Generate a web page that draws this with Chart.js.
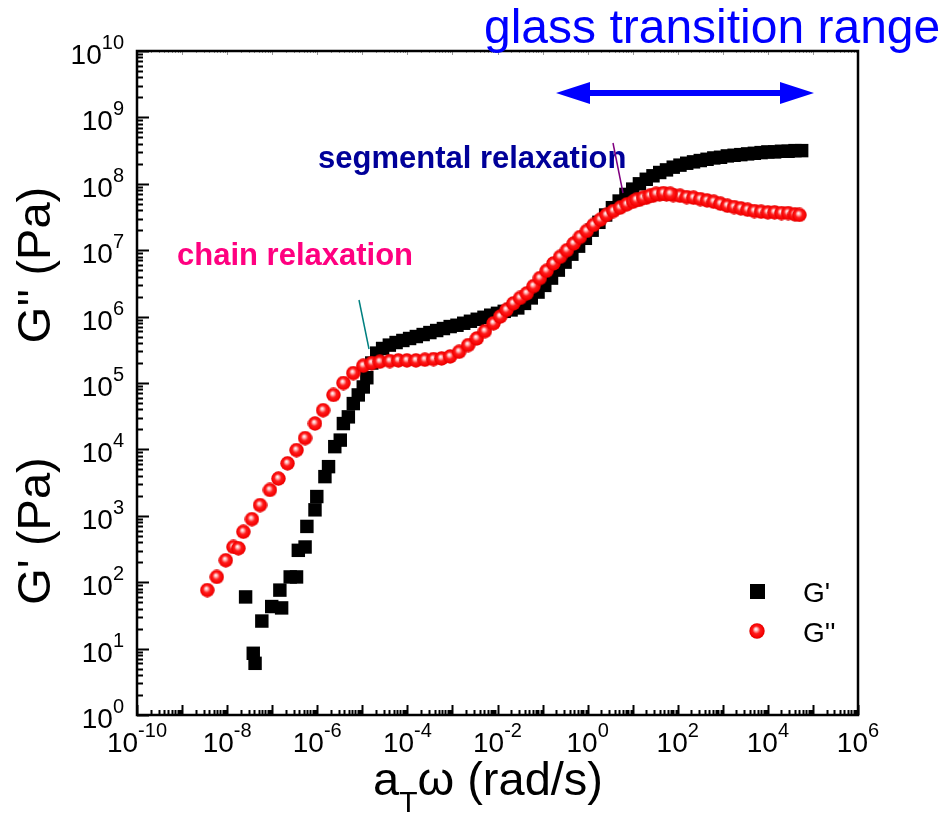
<!DOCTYPE html>
<html>
<head>
<meta charset="utf-8">
<script src="https://cdn.jsdelivr.net/npm/chart.js@4.4.1/dist/chart.umd.min.js"></script>
<style>
  html, body { margin: 0; padding: 0; background: #fff; }
  canvas { display: block; }
</style>
</head>
<body>
<canvas id="modulusChart" width="950" height="815"></canvas>
<script>
// G' (storage modulus) - black squares
const gPrimeFreq = [
  2.57e-8, 3.80e-8, 4.17e-8, 5.89e-8, 9.77e-8, 1.48e-7, 1.62e-7, 2.51e-7, 3.47e-7, 3.80e-7,
  5.37e-7, 5.89e-7, 8.91e-7, 9.77e-7, 1.48e-6, 1.78e-6, 2.45e-6, 3.24e-6, 3.80e-6, 4.90e-6,
  6.31e-6, 8.13e-6, 1.05e-5, 1.26e-5, 1.62e-5, 2.09e-5, 2.82e-5, 3.98e-5, 5.62e-5, 7.94e-5,
  1.12e-4, 1.58e-4, 2.24e-4, 3.16e-4, 4.47e-4, 6.31e-4, 8.91e-4, 1.26e-3, 1.78e-3, 2.51e-3,
  3.55e-3, 5.01e-3, 7.08e-3, 1.00e-2, 1.41e-2, 2.00e-2, 2.82e-2, 3.98e-2, 5.62e-2, 7.94e-2,
  0.112, 0.158, 0.224, 0.316, 0.447, 0.631, 0.891, 1.26, 1.78, 2.51,
  3.55, 5.01, 7.08, 10.0, 14.1, 20.0, 28.2, 39.8, 56.2, 79.4,
  112, 158, 224, 316, 447, 631, 891, 1260, 1780, 2510,
  3550, 5010, 7080, 10000, 14100, 20000, 28200, 39800, 56200
];
const gPrimeVal = [
  60, 8.5, 6.0, 26, 43, 76, 41, 120, 120, 302,
  339, 692, 1230, 1950, 3890, 5500, 11000, 13800, 24500, 30900,
  49000, 66100, 87100, 1.20e5, 2.00e5, 2.82e5, 3.31e5, 3.72e5, 4.07e5, 4.37e5,
  4.68e5, 5.01e5, 5.37e5, 5.75e5, 6.17e5, 6.61e5, 7.08e5, 7.41e5, 7.94e5, 8.51e5,
  9.12e5, 9.77e5, 1.05e6, 1.12e6, 1.20e6, 1.26e6, 1.35e6, 1.58e6, 1.91e6, 2.34e6,
  2.95e6, 3.80e6, 5.01e6, 6.61e6, 8.71e6, 1.15e7, 1.51e7, 2.00e7, 2.63e7, 3.39e7,
  4.37e7, 5.50e7, 6.92e7, 8.32e7, 1.00e8, 1.17e8, 1.32e8, 1.48e8, 1.62e8, 1.78e8,
  1.91e8, 2.04e8, 2.14e8, 2.24e8, 2.34e8, 2.45e8, 2.51e8, 2.63e8, 2.69e8, 2.75e8,
  2.82e8, 2.88e8, 2.95e8, 3.02e8, 3.02e8, 3.09e8, 3.09e8, 3.16e8, 3.16e8
];

// G'' (loss modulus) - red balls
const gDoublePrimeFreq = [
  3.63e-9, 5.89e-9, 9.33e-9, 1.38e-8, 1.78e-8, 2.29e-8, 3.55e-8, 5.37e-8, 8.91e-8, 1.38e-7,
  2.19e-7, 3.47e-7, 5.37e-7, 8.91e-7, 1.35e-6, 2.29e-6, 3.80e-6, 6.31e-6, 1.05e-5, 1.62e-5,
  2.45e-5, 4.07e-5, 6.31e-5, 9.77e-5, 1.55e-4, 2.45e-4, 3.80e-4, 5.75e-4, 8.91e-4, 1.41e-3,
  2.24e-3, 3.47e-3, 5.25e-3, 8.13e-3, 1.15e-2, 1.58e-2, 2.24e-2, 3.16e-2, 4.47e-2, 6.31e-2,
  8.71e-2, 0.123, 0.174, 0.245, 0.347, 0.490, 0.676, 0.955, 1.35, 1.91,
  2.63, 3.72, 5.25, 7.41, 10.2, 14.1, 20.0, 28.2, 39.8, 56.2,
  79.4, 112, 158, 224, 316, 447, 631, 891, 1260, 1780,
  2510, 3550, 5010, 7080, 10000, 14100, 20000, 28200, 39800, 50100,
  12.0, 17.0, 24.0, 33.0, 48.0, 68.0
];
const gDoublePrimeVal = [
  76, 120, 214, 339, 324, 575, 891, 1450, 2450, 3630,
  6170, 9770, 14800, 24500, 38900, 66100, 1.00e5, 1.41e5, 1.82e5, 2.00e5,
  2.09e5, 2.14e5, 2.19e5, 2.19e5, 2.19e5, 2.24e5, 2.29e5, 2.34e5, 2.51e5, 2.95e5,
  3.72e5, 4.68e5, 6.03e5, 7.94e5, 1.00e6, 1.26e6, 1.58e6, 1.91e6, 2.24e6, 2.88e6,
  3.80e6, 4.90e6, 6.31e6, 7.94e6, 1.00e7, 1.26e7, 1.58e7, 1.95e7, 2.40e7, 2.88e7,
  3.39e7, 3.89e7, 4.37e7, 4.90e7, 5.37e7, 5.75e7, 6.17e7, 6.61e7, 6.92e7, 6.92e7,
  6.76e7, 6.61e7, 6.31e7, 6.17e7, 5.89e7, 5.62e7, 5.37e7, 5.01e7, 4.68e7, 4.47e7,
  4.27e7, 4.07e7, 3.89e7, 3.80e7, 3.72e7, 3.72e7, 3.63e7, 3.63e7, 3.47e7, 3.39e7,
  5.75e7, 6.17e7, 6.61e7, 7.08e7, 7.24e7, 7.08e7
];

const seriesNames = ["G'", "G''"];
const xLabelExps = [-10, -8, -6, -4, -2, 0, 2, 4, 6];
const yLabelExps = [0, 1, 2, 3, 4, 5, 6, 7, 8, 9, 10];

const FONT = '"Liberation Sans", Arial, Helvetica, sans-serif';

function toPoints(xs, ys) {
  return xs.map((v, i) => ({ x: v, y: ys[i] }));
}

// shaded red ball like the Origin "sphere" symbol
function makeBall(size) {
  const c = document.createElement('canvas');
  c.width = size; c.height = size;
  const g = c.getContext('2d');
  const r = size / 2;
  const grad = g.createRadialGradient(r * 0.85, r * 0.75, 0, r, r, r);
  grad.addColorStop(0, '#ffffff');
  grad.addColorStop(0.18, '#ffc4c4');
  grad.addColorStop(0.48, '#ff1c1c');
  grad.addColorStop(0.85, '#f50000');
  grad.addColorStop(1, '#d00000');
  g.fillStyle = grad;
  g.beginPath();
  g.arc(r, r, r - 0.3, 0, Math.PI * 2);
  g.fill();
  return c;
}
const ball = makeBall(15);
const legendBall = makeBall(16);

// decade + 2..9 minor ticks for log axes
function logTicks(scale) {
  const lo = Math.round(Math.log10(scale.min));
  const hi = Math.round(Math.log10(scale.max));
  const t = [];
  for (let e = lo; e <= hi; e++) {
    t.push({ value: Math.pow(10, e), major: true });
    if (e < hi) {
      for (let m = 2; m <= 9; m++) t.push({ value: m * Math.pow(10, e), major: false });
    }
  }
  scale.ticks = t;
}

function powWidth(ctx, exp) {
  ctx.font = '28px ' + FONT;
  const wb = ctx.measureText('10').width;
  ctx.font = '20px ' + FONT;
  const ws = ctx.measureText(String(exp)).width;
  return [wb, ws];
}

function drawPow(ctx, exp, left, baseY) {
  const [wb] = powWidth(ctx, exp);
  ctx.textAlign = 'left';
  ctx.textBaseline = 'alphabetic';
  ctx.font = '28px ' + FONT;
  ctx.fillText('10', left, baseY);
  ctx.font = '20px ' + FONT;
  ctx.fillText(String(exp), left + wb, baseY - 15);
}

const framePlugin = {
  id: 'frame',
  afterDatasetsDraw(chart) {
    const { ctx, chartArea: a, scales: { x, y } } = chart;
    ctx.save();
    ctx.strokeStyle = '#000';
    ctx.fillStyle = '#000';

    // inward ticks, bottom and left
    ctx.lineWidth = 2;
    ctx.beginPath();
    x.ticks.forEach(t => {
      const px = Math.round(x.getPixelForValue(t.value)) + 0.5;
      ctx.moveTo(px, a.bottom);
      ctx.lineTo(px, a.bottom - (t.major ? 10 : 5));
    });
    y.ticks.forEach(t => {
      const py = Math.round(y.getPixelForValue(t.value)) + 0.5;
      ctx.moveTo(a.left, py);
      ctx.lineTo(a.left + (t.major ? 12 : 6), py);
    });
    ctx.stroke();

    // faint ticks on the top edge
    ctx.strokeStyle = '#9a9a9a';
    ctx.lineWidth = 1;
    ctx.beginPath();
    x.ticks.forEach(t => {
      const px = Math.round(x.getPixelForValue(t.value)) + 0.5;
      ctx.moveTo(px, a.top);
      ctx.lineTo(px, a.top + (t.major ? 4 : 2));
    });
    ctx.stroke();

    // frame
    ctx.strokeStyle = '#000';
    ctx.lineWidth = 2.5;
    ctx.strokeRect(a.left, a.top, a.right - a.left, a.bottom - a.top);

    // tick labels
    xLabelExps.forEach(e => {
      const px = x.getPixelForValue(Math.pow(10, e));
      const [wb, ws] = powWidth(ctx, e);
      drawPow(ctx, e, px - (wb + ws) / 2, a.bottom + 37);
    });
    yLabelExps.forEach(e => {
      const py = y.getPixelForValue(Math.pow(10, e));
      const [wb, ws] = powWidth(ctx, e);
      drawPow(ctx, e, a.left - 13 - wb - ws, py + 13);
    });

    // axis titles
    ctx.fillStyle = '#000';
    ctx.textBaseline = 'alphabetic';
    ctx.textAlign = 'left';
    let tx = 373;
    ctx.font = '47px ' + FONT;
    ctx.fillText('a', tx, 795);
    tx += ctx.measureText('a').width;
    ctx.font = '30px ' + FONT;
    ctx.fillText('T', tx, 812);
    tx += ctx.measureText('T').width;
    ctx.font = '47px ' + FONT;
    ctx.fillText('\u03c9 (rad/s)', tx, 795);

    ctx.font = '47px ' + FONT;
    ctx.textAlign = 'center';
    [["G'' (Pa)", 265], ["G' (Pa)", 531]].forEach(([txt, cy]) => {
      ctx.save();
      ctx.translate(50, cy);
      ctx.rotate(-Math.PI / 2);
      ctx.fillText(txt, 0, 0);
      ctx.restore();
    });

    // legend
    ctx.fillStyle = '#000';
    ctx.fillRect(750, 584, 15, 15);
    ctx.drawImage(legendBall, 749, 623);
    ctx.textAlign = 'left';
    ctx.font = '28px ' + FONT;
    ctx.fillText(seriesNames[0], 803, 602);
    ctx.fillText(seriesNames[1], 803, 642);

    // annotations
    ctx.font = 'bold 31px ' + FONT;
    ctx.fillStyle = '#ff0080';
    ctx.fillText('chain relaxation', 177, 265);
    ctx.fillStyle = '#000099';
    ctx.fillText('segmental relaxation', 318, 168);

    ctx.lineWidth = 1.5;
    ctx.strokeStyle = '#008080';
    ctx.beginPath(); ctx.moveTo(359, 300); ctx.lineTo(369, 349); ctx.stroke();
    ctx.strokeStyle = '#800080';
    ctx.beginPath(); ctx.moveTo(613, 143); ctx.lineTo(623, 193); ctx.stroke();

    ctx.font = '48px ' + FONT;
    ctx.fillStyle = '#0000ff';
    ctx.fillText('glass transition range', 484, 43);

    // double arrow
    ctx.fillRect(585, 90, 200, 6);
    ctx.beginPath();
    ctx.moveTo(556, 93); ctx.lineTo(590, 82); ctx.lineTo(590, 104); ctx.closePath();
    ctx.moveTo(814, 93); ctx.lineTo(780, 82); ctx.lineTo(780, 104); ctx.closePath();
    ctx.fill();

    ctx.restore();
  }
};

const ctx = document.getElementById('modulusChart').getContext('2d');
const modulusChart = new Chart(ctx, {
  type: 'scatter',
  data: {
    datasets: [
      {
        label: seriesNames[1],
        data: toPoints(gDoublePrimeFreq, gDoublePrimeVal),
        pointStyle: ball,
        pointRadius: 7.5,
        order: 0
      },
      {
        label: seriesNames[0],
        data: toPoints(gPrimeFreq, gPrimeVal),
        pointStyle: 'rect',
        pointRadius: 9.5,
        backgroundColor: '#000',
        borderColor: '#000',
        borderWidth: 0,
        order: 1
      }
    ]
  },
  options: {
    responsive: false,
    animation: false,
    events: [],
    layout: { padding: { top: 51, right: 92, left: 0, bottom: 0 } },
    plugins: { legend: { display: false }, tooltip: { enabled: false } },
    scales: {
      x: {
        type: 'logarithmic', min: 1e-10, max: 1e6,
        grid: { display: false }, border: { display: false },
        ticks: { display: false },
        afterBuildTicks: logTicks,
        afterFit: s => { s.height = 100; }
      },
      y: {
        type: 'logarithmic', min: 1, max: 1e10,
        grid: { display: false }, border: { display: false },
        ticks: { display: false },
        afterBuildTicks: logTicks,
        afterFit: s => { s.width = 137; }
      }
    }
  },
  plugins: [framePlugin]
});
</script>
</body>
</html>
